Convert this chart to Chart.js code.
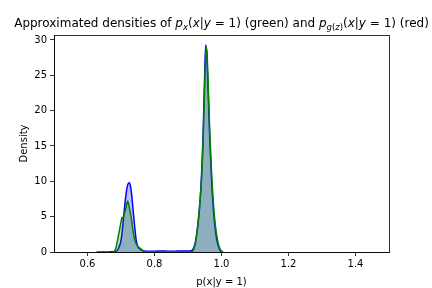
<!DOCTYPE html>
<html>
<head>
<meta charset="utf-8">
<script src="https://cdn.jsdelivr.net/npm/chart.js@4/dist/chart.umd.min.js"></script>
<style>
	html, body { margin: 0; padding: 0; background: #fff; }
	canvas { display: block; }
</style>
</head>
<body>
<canvas id="densityChart" width="432" height="288"></canvas>
<script>
// --- Data ---
const blueX = [0.627, 0.65, 0.67, 0.68, 0.69, 0.695, 0.70, 0.705, 0.71, 0.715, 0.72, 0.724, 0.728, 0.732, 0.736, 0.74, 0.745, 0.75, 0.755, 0.76, 0.77, 0.78, 0.80, 0.82, 0.84, 0.86, 0.88, 0.90, 0.91, 0.915, 0.92, 0.925, 0.93, 0.935, 0.94, 0.945, 0.95, 0.953, 0.956, 0.96, 0.965, 0.97, 0.975, 0.98, 0.985, 0.99, 0.995, 0.998];
const blueY = [0, 0, 0.02, 0.05, 0.3, 0.8, 1.6, 3.5, 6.0, 8.2, 9.5, 9.8, 9.4, 8.0, 6.0, 4.0, 1.8, 0.8, 0.5, 0.3, 0.15, 0.12, 0.12, 0.13, 0.12, 0.12, 0.13, 0.14, 0.2, 0.4, 1.0, 2.2, 4.0, 6.5, 10.5, 16.5, 25.5, 29.3, 28, 23, 16, 10.5, 6.5, 3.8, 2.0, 0.9, 0.3, 0.05];

const greenX = [0.675, 0.68, 0.685, 0.69, 0.695, 0.70, 0.703, 0.706, 0.71, 0.715, 0.72, 0.723, 0.726, 0.73, 0.735, 0.74, 0.745, 0.75, 0.755, 0.76, 0.765, 0.77, 0.78, 0.80, 0.85, 0.90, 0.912, 0.918, 0.922, 0.926, 0.93, 0.935, 0.94, 0.945, 0.95, 0.954, 0.957, 0.96, 0.965, 0.97, 0.975, 0.98, 0.985, 0.99, 0.995, 1.0, 1.005];
const greenY = [0, 0.1, 0.6, 1.8, 3.0, 4.2, 4.9, 4.7, 5.4, 6.3, 7.2, 6.7, 6.0, 5.0, 3.3, 1.9, 1.2, 0.8, 0.6, 0.4, 0.2, 0.05, 0.02, 0.02, 0.02, 0.02, 0.05, 0.5, 1.2, 2.5, 4.2, 6.8, 10, 15.5, 24, 29.0, 28, 24, 17, 11.5, 7.5, 4.5, 2.6, 1.3, 0.5, 0.15, 0];

const xTicks = [0.6, 0.8, 1.0, 1.2, 1.4];
const yTicks = [0, 5, 10, 15, 20, 25, 30];

const FONT = "'DejaVu Sans', sans-serif";

// Title with mathtext-like italics and subscripts
const titleParts = [
	["Approximated densities of ", "n"],
	["p", "i"], ["x", "is"], ["(", "n"], ["x", "i"], ["|", "n"], ["y", "i"],
	[" = 1) (green) and ", "n"],
	["p", "i"], ["g", "is"], ["(", "ns"], ["z", "is"], [")", "ns"],
	["(", "n"], ["x", "i"], ["|", "n"], ["y", "i"],
	[" = 1) (red)", "n"]
];

function partFont(kind) {
	const italic = kind.indexOf("i") === 0 ? "italic " : "";
	const size = kind.indexOf("s") > -1 ? 8.5 : 12;
	return italic + size + "px " + FONT;
}

const titlePlugin = {
	id: "mathTitle",
	afterDraw(chart) {
		const ctx = chart.ctx;
		const area = chart.chartArea;
		ctx.save();
		ctx.fillStyle = "#000";
		ctx.textBaseline = "alphabetic";
		let total = 0;
		titleParts.forEach(([t, k]) => {
			ctx.font = partFont(k);
			total += ctx.measureText(t).width;
		});
		let x = (area.left + area.right) / 2 - total / 2;
		const base = 27;
		titleParts.forEach(([t, k]) => {
			ctx.font = partFont(k);
			const dy = k.indexOf("s") > -1 ? 3 : 0;
			ctx.fillText(t, x, base + dy);
			x += ctx.measureText(t).width;
		});
		ctx.restore();
	}
};

// Full box around the axes
const boxPlugin = {
	id: "axesBox",
	afterDatasetsDraw(chart) {
		const { ctx, chartArea: a } = chart;
		ctx.save();
		ctx.strokeStyle = "#000";
		ctx.lineWidth = 0.8;
		ctx.strokeRect(Math.round(a.left) + 0.5, Math.round(a.top) + 0.5, Math.round(a.right - a.left), Math.round(a.bottom - a.top));
		ctx.restore();
	}
};

function toPoints(xs, ys) {
	return xs.map((x, i) => ({ x: x, y: ys[i] }));
}

new Chart(document.getElementById("densityChart").getContext("2d"), {
	type: "line",
	data: {
		datasets: [
			{
				data: toPoints(greenX, greenY),
				borderColor: "green",
				backgroundColor: "rgba(0,128,0,0.25)",
				borderWidth: 1.5,
				fill: "origin",
				pointRadius: 0,
				cubicInterpolationMode: "monotone"
			},
			{
				data: toPoints(blueX, blueY),
				borderColor: "blue",
				backgroundColor: "rgba(0,0,255,0.25)",
				borderWidth: 1.5,
				fill: "origin",
				pointRadius: 0,
				cubicInterpolationMode: "monotone"
			}
		]
	},
	options: {
		responsive: false,
		animation: false,
		devicePixelRatio: 1,
		layout: { padding: { left: 0, top: 35, right: 43, bottom: 0 } },
		plugins: {
			legend: { display: false },
			tooltip: { enabled: false },
			title: { display: false }
		},
		scales: {
			x: {
				type: "linear",
				min: 0.5,
				max: 1.5,
				afterBuildTicks: (s) => { s.ticks = xTicks.map(v => ({ value: v })); },
				afterFit: (s) => { s.height = 36; },
				ticks: {
					color: "#000",
					font: { family: FONT, size: 10 },
					padding: 2,
					maxRotation: 0,
					callback: (v) => v.toFixed(1)
				},
				grid: { display: true, drawOnChartArea: false, drawTicks: true, tickLength: 4, color: "#000", lineWidth: 0.8 },
				border: { display: true, color: "#000", width: 0.8 },
				title: { display: true, text: "p(x|y = 1)", color: "#000", font: { family: FONT, size: 10 }, padding: { top: 4, bottom: 0 } }
			},
			y: {
				min: 0,
				max: 30.7,
				afterBuildTicks: (s) => { s.ticks = yTicks.map(v => ({ value: v })); },
				afterFit: (s) => { s.width = 54; },
				ticks: {
					color: "#000",
					font: { family: FONT, size: 10 },
					padding: 3
				},
				grid: { display: true, drawOnChartArea: false, drawTicks: true, tickLength: 4, color: "#000", lineWidth: 0.8 },
				border: { display: true, color: "#000", width: 0.8 },
				title: { display: true, text: "Density", color: "#000", font: { family: FONT, size: 10 }, padding: { top: 18, bottom: 0 } }
			}
		}
	},
	plugins: [titlePlugin, boxPlugin]
});
</script>
</body>
</html>
